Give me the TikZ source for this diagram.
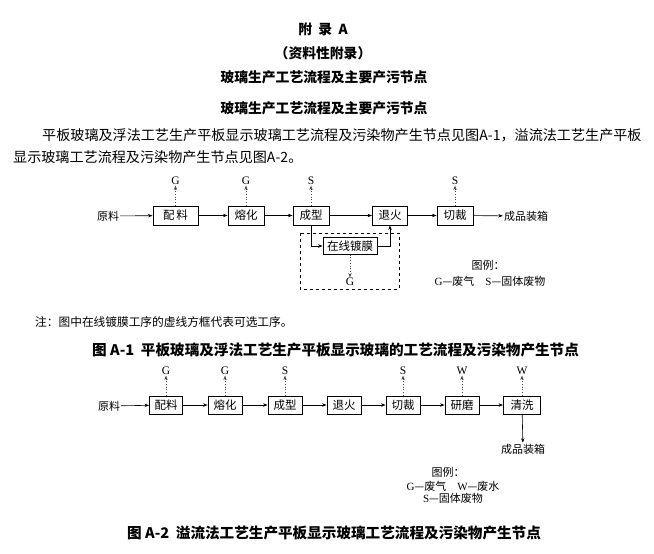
\documentclass[tikz,border=0pt]{standalone}
\usepackage{fontspec}
\setmainfont{Liberation Serif}
\newfontfamily\cjk{Noto Sans CJK SC}
\usetikzlibrary{arrows.meta,calc}
\tikzset{
  tip/.style={-{Stealth[length=4.5pt,width=3.4pt]}},
  flow/.style={tip,line width=0.6pt},
  emit/.style={tip,line width=0.7pt,dotted,draw=black!70},
  procbox/.style={draw,line width=0.9pt,inner sep=0pt,minimum height=19pt,font=\cjk\fontsize{11.5}{12}\selectfont},
  procboxb/.style={procbox,minimum height=18pt},
  lbl/.style={inner sep=1pt,font=\cjk\fontsize{11}{12}\selectfont},
  gsw/.style={inner sep=0.5pt,font=\fontsize{11.5}{12}\selectfont},
  bodytxt/.style={inner sep=0pt,font=\cjk\fontsize{14.1}{15}\selectfont},
  headtxt/.style={inner sep=0pt,font=\cjk\bfseries\fontsize{13.8}{15}\selectfont},
  captxt/.style={inner sep=0pt,font=\cjk\bfseries\fontsize{14.6}{16}\selectfont},
}
\begin{document}
\begin{tikzpicture}[x=1pt,y=-1pt]
\fill[white] (0,0) rectangle (654,554);
\useasboundingbox (0,0) rectangle (654,554);

% headings
\node[headtxt] (h1) at (323,29) {附\ \ 录\ \ A};
\node[headtxt] (h2) at (323,53) {（资料性附录）};
\node[headtxt] (h3) at (324,77) {玻璃生产工艺流程及主要产污节点};
\node[headtxt] (h4) at (324,108) {玻璃生产工艺流程及主要产污节点};
\node[bodytxt,anchor=west] (p1) at (42,135) {平板玻璃及浮法工艺生产平板显示玻璃工艺流程及污染物产生节点见图A-1，溢流法工艺生产平板};
\node[bodytxt,anchor=west] (p2) at (13,157) {显示玻璃工艺流程及污染物产生节点见图A-2。};

% ---------- Figure A-1 ----------
\node[lbl] (a0) at (108,216) {原料};
\node[procbox,minimum width=45pt] (a1) at (175.5,215.5) {配\,料};
\node[procbox,minimum width=36pt] (a2) at (246,215.5) {熔化};
\node[procbox,minimum width=36pt] (a3) at (311,215.5) {成型};
\node[procbox,minimum width=35pt] (a4) at (390,215.5) {退火};
\node[procbox,minimum width=36pt] (a5) at (455,215.5) {切裁};
\node[lbl] (a6) at (526,216) {成品装箱};
\node[procbox,minimum width=54pt,minimum height=16.5pt] (ac) at (350,246) {在线镀膜};
\draw[dashed,line width=0.9pt] (300,233) rectangle (399,289);

\draw[flow] (a0) -- (a1);
\draw[flow] (a1) -- (a2);
\draw[flow] (a2) -- (a3);
\draw[flow] (a3) -- (a4);
\draw[flow] (a4) -- (a5);
\draw[flow] (a5) -- (a6);
\draw[flow] (a3.south) |- (ac.west);
\draw[flow] (ac.east) -| (a4.south);

\node[gsw] (g1) at (175.5,181) {G};
\node[gsw] (g2) at (246,181) {G};
\node[gsw] (g3) at (311,181) {S};
\node[gsw] (g5) at (455,181) {S};
\node[gsw] (gc) at (350,282) {G};
\draw[emit] (a1.north) -- (g1.south);
\draw[emit] (a2.north) -- (g2.south);
\draw[emit] (a3.north) -- (g3.south);
\draw[emit] (a5.north) -- (g5.south);
\draw[emit] (ac.south) -- (gc.north);

\node[lbl] (lg1a) at (488,265) {图例：};
\node[lbl] (lg1b) at (490,281) {{\rmfamily G}—废气\quad{\rmfamily S}—固体废物};

\node[inner sep=0pt,anchor=west,font=\cjk\fontsize{11.7}{13}\selectfont] (note) at (35,322) {注：图中在线镀膜工序的虚线方框代表可选工序。};
\node[captxt,anchor=west] (cap1) at (92,350) {图 A-1\ \ 平板玻璃及浮法工艺生产平板显示玻璃的工艺流程及污染物产生节点};

% ---------- Figure A-2 ----------
\node[lbl] (b0) at (109,406) {原料};
\node[procboxb,minimum width=33pt] (b1) at (166,405) {配料};
\node[procboxb,minimum width=34pt] (b2) at (225,405) {熔化};
\node[procboxb,minimum width=34pt] (b3) at (285,405) {成型};
\node[procboxb,minimum width=34pt] (b4) at (344,405) {退火};
\node[procboxb,minimum width=34pt] (b5) at (403,405) {切裁};
\node[procboxb,minimum width=34pt] (b6) at (462,405) {研磨};
\node[procboxb,minimum width=37pt] (b7) at (522,405) {清洗};
\node[lbl] (b8) at (523,449) {成品装箱};

\draw[flow] (b0) -- (b1);
\draw[flow] (b1) -- (b2);
\draw[flow] (b2) -- (b3);
\draw[flow] (b3) -- (b4);
\draw[flow] (b4) -- (b5);
\draw[flow] (b5) -- (b6);
\draw[flow] (b6) -- (b7);
\draw[flow] (b7) -- (b8);

\node[gsw] (e1) at (166,371) {G};
\node[gsw] (e2) at (225,371) {G};
\node[gsw] (e3) at (285,371) {S};
\node[gsw] (e5) at (403,371) {S};
\node[gsw] (e6) at (462,371) {W};
\node[gsw] (e7) at (522,371) {W};
\draw[emit] (b1.north) -- (e1.south);
\draw[emit] (b2.north) -- (e2.south);
\draw[emit] (b3.north) -- (e3.south);
\draw[emit] (b5.north) -- (e5.south);
\draw[emit] (b6.north) -- (e6.south);
\draw[emit] (b7.north) -- (e7.south);

\node[lbl] (lg2a) at (448,472) {图例：};
\node[lbl] (lg2b) at (453,486) {{\rmfamily G}—废气\quad{\rmfamily W}—废水};
\node[lbl] (lg2c) at (453,498) {{\rmfamily S}—固体废物};

\node[captxt,anchor=west] (cap2) at (127,533) {图 A-2\ \ 溢流法工艺生产平板显示玻璃工艺流程及污染物产生节点};
\end{tikzpicture}
\end{document}
